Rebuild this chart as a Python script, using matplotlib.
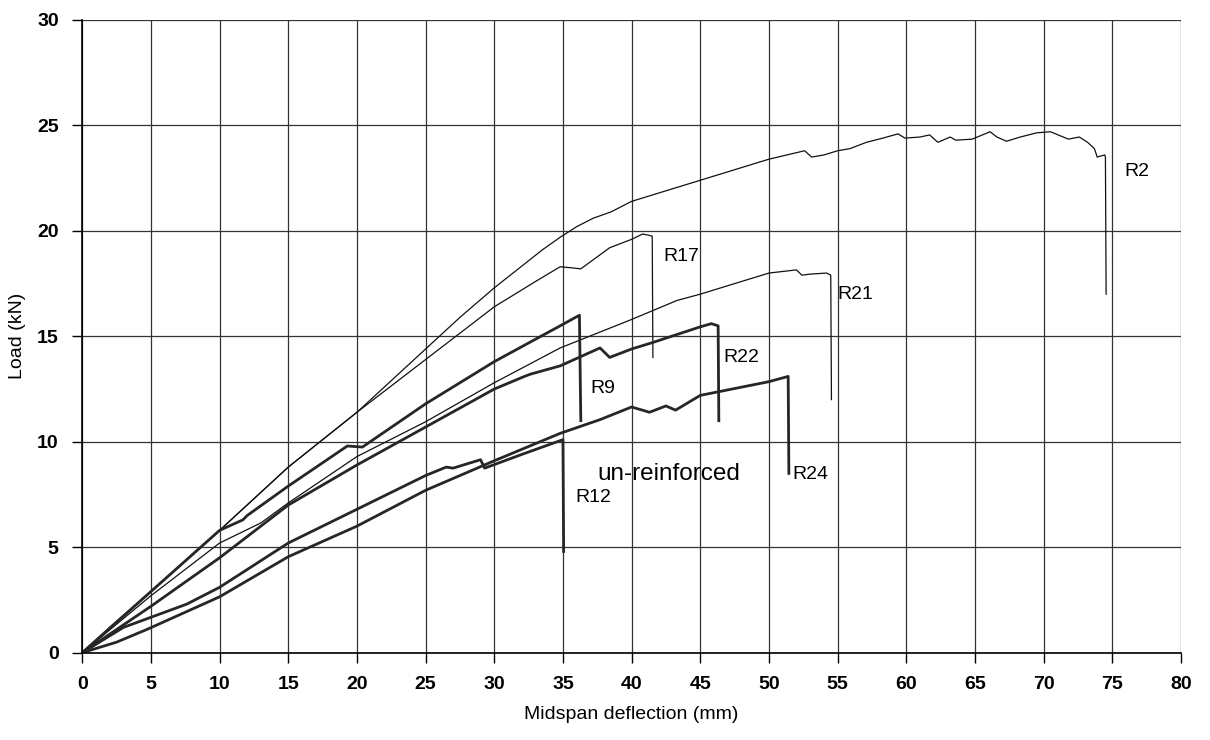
import matplotlib
matplotlib.use("Agg")
import matplotlib.pyplot as plt

plt.rcParams['font.family'] = ['Liberation Sans', 'DejaVu Sans']

# load-deflection curves (mm, kN)
r2_x = [0, 2, 5, 10, 15, 17.5, 20, 22.5, 25, 27.5, 30, 33.5, 34.8, 36, 37.2, 38.5, 40, 42, 45,
        47, 50, 52.6, 53.1, 54, 55, 55.9, 57.1, 58.3, 59.4, 59.9, 61, 61.7, 62.3, 63.2, 63.6,
        64.8, 66.1, 66.6, 67.3, 68.3, 69.5, 70.5, 71.8, 72.6, 73.2, 73.7, 73.9, 74.45, 74.5,
        74.55]
r2_y = [0, 1.2, 2.9, 5.8, 8.8, 10.1, 11.4, 12.9, 14.4, 15.9, 17.3, 19.1, 19.7, 20.2, 20.6, 20.9,
        21.4, 21.8, 22.4, 22.8, 23.4, 23.8, 23.5, 23.6, 23.8, 23.9, 24.2, 24.4, 24.6, 24.4,
        24.45, 24.55, 24.2, 24.45, 24.3, 24.35, 24.7, 24.45, 24.25, 24.45, 24.65, 24.7, 24.35,
        24.45, 24.2, 23.9, 23.5, 23.6, 23.5, 17.0]

r17_x = [0, 2, 5, 10, 15, 20, 25, 30, 33, 34.8, 35.6, 36.3, 38.4, 40, 40.8, 41.2, 41.5, 41.55]
r17_y = [0, 1.2, 2.9, 5.8, 8.8, 11.4, 13.9, 16.4, 17.6, 18.3, 18.25, 18.2, 19.2, 19.6, 19.85,
         19.8, 19.75, 14.0]

r21_x = [0, 5, 10, 13, 15, 20, 25, 30, 34.8, 40, 43.3, 45, 50, 52, 52.4, 53, 54.2, 54.5, 54.55]
r21_y = [0, 2.7, 5.2, 6.15, 7.1, 9.3, 10.95, 12.8, 14.45, 15.8, 16.7, 17.0, 18.0, 18.15, 17.9,
         17.95, 18.0, 17.9, 12.0]

r9_x = [0, 5, 10, 11.7, 12, 15, 19.3, 20.4, 25, 30, 34.8, 36.2, 36.3]
r9_y = [0, 2.9, 5.8, 6.3, 6.5, 7.9, 9.8, 9.75, 11.8, 13.8, 15.5, 16.0, 11.0]

r22_x = [0, 5, 10, 15, 20, 25, 30, 32.2, 32.6, 34.8, 37.7, 38.4, 40, 41.5, 45, 45.8, 46.3, 46.35]
r22_y = [0, 2.2, 4.5, 7.0, 8.9, 10.7, 12.5, 13.1, 13.2, 13.6, 14.45, 14.0, 14.4, 14.7, 15.45,
         15.6, 15.5, 11.0]

r24_x = [0, 2.5, 4.7, 10, 15, 20, 25, 30, 34.8, 37.7, 40, 41.3, 42.5, 43.2, 45, 50, 51.4, 51.45]
r24_y = [0, 0.5, 1.1, 2.65, 4.55, 6.0, 7.7, 9.1, 10.4, 11.05, 11.65, 11.4, 11.7, 11.5, 12.2,
         12.85, 13.1, 8.5]

r12_x = [0, 3.0, 7.6, 10, 15, 20, 25, 26.5, 27, 29, 29.3, 32, 35, 35.05]
r12_y = [0, 1.2, 2.3, 3.1, 5.2, 6.8, 8.4, 8.8, 8.75, 9.15, 8.75, 9.4, 10.1, 4.8]

labels = ["R2", "R17", "R21", "R22", "R9", "R24", "R12"]
label_x = [75.9, 42.3, 55.0, 46.7, 37.0, 51.7, 35.9]
label_y = [22.8, 18.8, 17.0, 14.0, 12.55, 8.45, 7.35]

fig = plt.figure(figsize=(12.1, 7.4), dpi=100)
ax = fig.add_axes([0.068, 0.118, 0.908, 0.855])

thin = dict(color="#111111", lw=0.9)
thick = dict(color="#262626", lw=2.0)
ax.plot(r2_x, r2_y, **thin)
ax.plot(r17_x, r17_y, **thin)
ax.plot(r21_x, r21_y, **thin)
ax.plot(r9_x, r9_y, **thick)
ax.plot(r22_x, r22_y, **thick)
ax.plot(r24_x, r24_y, **thick)
ax.plot(r12_x, r12_y, **thick)

for t, x, y in zip(labels, label_x, label_y):
    ax.text(x, y, t, fontsize=14, va="center", ha="left")
ax.text(37.5, 8.45, "un-reinforced", fontsize=17.5, va="center", ha="left")

ax.set_xlim(0, 80)
ax.set_ylim(0, 30)
ax.set_xticks(range(0, 81, 5))
ax.set_yticks(range(0, 31, 5))
ax.grid(True, color="#333333", lw=0.9)
ax.set_axisbelow(True)
for s in ["top", "right"]:
    ax.spines[s].set_visible(False)
ax.spines["left"].set_linewidth(1.2)
ax.spines["bottom"].set_linewidth(1.2)
ax.tick_params(direction="out", length=7, width=1, labelsize=14, pad=10)
for lab in ax.get_xticklabels() + ax.get_yticklabels():
    lab.set_fontweight("bold")
ax.set_xlabel("Midspan deflection (mm)", fontsize=14, labelpad=9)
ax.set_ylabel("Load (kN)", fontsize=14, labelpad=8)

fig.savefig("out.png", dpi=100)
